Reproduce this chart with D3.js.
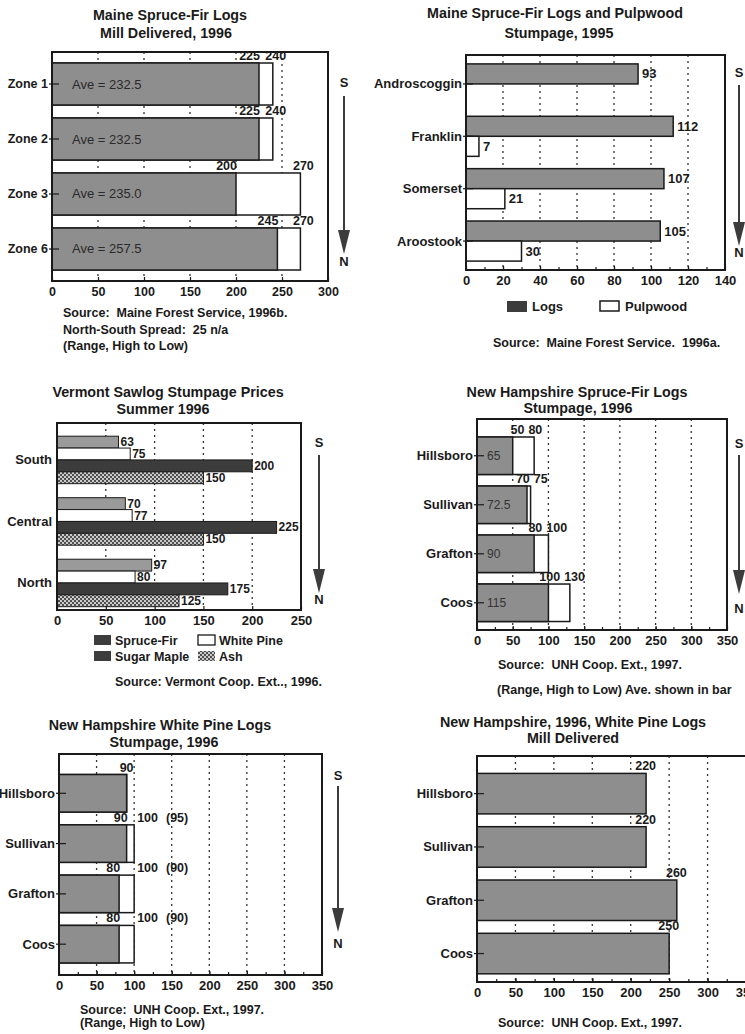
<!DOCTYPE html>
<html><head><meta charset="utf-8">
<script src="https://cdn.jsdelivr.net/npm/d3@7"></script>
<style>
body{margin:0;background:#fff;}
svg text{font-family:'Liberation Sans',Arial,Helvetica,sans-serif;white-space:pre;}
</style></head>
<body>
<script>
// ---------- DATA ----------
// Chart 1: Maine Spruce-Fir Logs, Mill Delivered, 1996
const c1Zones = ["Zone 1","Zone 2","Zone 3","Zone 6"];
const c1Low = [225,225,200,245];
const c1High = [240,240,270,270];
const c1Ave = [232.5,232.5,235.0,257.5];
const c1Ticks = [0,50,100,150,200,250,300];

// Chart 2: Maine Spruce-Fir Logs and Pulpwood Stumpage, 1995
const c2Counties = ["Androscoggin","Franklin","Somerset","Aroostook"];
const c2Logs = [93,112,107,105];
const c2Pulp = [null,7,21,30];
const c2Ticks = [0,20,40,60,80,100,120,140];

// Chart 3: Vermont Sawlog Stumpage Prices, Summer 1996
const c3Regions = ["South","Central","North"];
const c3Series = ["Spruce-Fir","White Pine","Sugar Maple","Ash"];
const c3SpruceFir = [63,70,97];
const c3WhitePine = [75,77,80];
const c3SugarMaple = [200,225,175];
const c3Ash = [150,150,125];
const c3Ticks = [0,50,100,150,200,250];

// Chart 4: New Hampshire Spruce-Fir Logs Stumpage, 1996
const c4Counties = ["Hillsboro","Sullivan","Grafton","Coos"];
const c4Low = [50,70,80,100];
const c4High = [80,75,100,130];
const c4Ave = [65,72.5,90,115];
const c4Ticks = [0,50,100,150,200,250,300,350];

// Chart 5: New Hampshire White Pine Logs Stumpage, 1996
const c5Counties = ["Hillsboro","Sullivan","Grafton","Coos"];
const c5Low = [90,90,80,80];
const c5High = [90,100,100,100];
const c5Ave = [null,95,90,90];
const c5Ticks = [0,50,100,150,200,250,300,350];

// Chart 6: New Hampshire, 1996, White Pine Logs, Mill Delivered
const c6Counties = ["Hillsboro","Sullivan","Grafton","Coos"];
const c6Values = [220,220,260,250];
const c6Ticks = [0,50,100,150,200,250,300,350];

// ---------- DRAWING ----------
const GRAY = "#8e8e8e", DARK = "#3c3c3c", INK = "#1a1a1a";
const TITLE = 14.3, SRC = 12.5, CAT = 13;
const svg = d3.select("body").append("svg").attr("width",745).attr("height",1034);
const defs = svg.append("defs");
const pat = defs.append("pattern").attr("id","ash").attr("width",4).attr("height",4).attr("patternUnits","userSpaceOnUse");
pat.append("rect").attr("width",4).attr("height",4).attr("fill","#505050");
pat.append("circle").attr("cx",1).attr("cy",1).attr("r",0.95).attr("fill","#fff");
pat.append("circle").attr("cx",3).attr("cy",3).attr("r",0.95).attr("fill","#fff");

function txt(g, x, y, s, size, opts={}) {
  return g.append("text").attr("x",x).attr("y",y).text(s)
    .attr("font-size",size).attr("font-weight",opts.weight||"bold")
    .attr("text-anchor",opts.anchor||"start").attr("fill",opts.fill||INK);
}
function grid(g, x, ticks, top, bottom) {
  g.selectAll(null).data(ticks).join("line")
    .attr("x1",d=>x(d)).attr("x2",d=>x(d)).attr("y1",top).attr("y2",bottom)
    .attr("stroke","#333").attr("stroke-width",1.3).attr("stroke-dasharray","2,4");
}
function frameAxis(g, x, top, bottom, ticks, minorStep, fs) {
  const d = x.domain();
  g.append("rect").attr("x",x(d[0])).attr("y",top).attr("width",x(d[1])-x(d[0])).attr("height",bottom-top)
    .attr("fill","none").attr("stroke",INK).attr("stroke-width",2);
  if (minorStep) {
    const minor = d3.range(d[0]+minorStep, d[1], minorStep);
    const m = g.append("g").attr("transform",`translate(0,${bottom})`)
      .call(d3.axisBottom(x).tickValues(minor).tickSize(-3).tickFormat(""));
    m.select(".domain").remove();
    m.selectAll("line").attr("stroke",INK).attr("stroke-width",1.2);
  }
  const a = g.append("g").attr("transform",`translate(0,${bottom})`)
    .call(d3.axisBottom(x).tickValues(ticks).tickSizeInner(-4).tickSizeOuter(0).tickPadding(6));
  a.select(".domain").remove();
  a.selectAll("line").attr("stroke",INK).attr("stroke-width",1.2);
  a.selectAll("text").attr("font-size",fs||13).attr("font-weight","bold").attr("fill",INK);
}
function yLabels(g, x0, y, cats, fs) {
  cats.forEach(c => {
    const cy = y(c) + y.bandwidth()/2;
    g.append("line").attr("x1",x0-3).attr("x2",x0+7).attr("y1",cy).attr("y2",cy).attr("stroke",INK).attr("stroke-width",1.2);
    txt(g, x0-4, cy, c, fs||CAT, {anchor:"end"}).attr("dominant-baseline","central");
  });
}
function arrow(g, x, sY, y0, tipY, nY) {
  txt(g, x, sY, "S", 13, {anchor:"middle"});
  g.append("line").attr("x1",x).attr("x2",x).attr("y1",y0).attr("y2",tipY-20).attr("stroke",DARK).attr("stroke-width",2);
  g.append("path").attr("d",`M${x-6},${tipY-24}L${x+6},${tipY-24}L${x},${tipY}Z`).attr("fill",DARK);
  txt(g, x, nY, "N", 13, {anchor:"middle"});
}
function rangeBars(g, x, y, cats, low, high) {
  g.selectAll(null).data(cats).join("rect")
    .attr("x",x(0)).attr("y",c=>y(c)).attr("height",y.bandwidth())
    .attr("width",(c,i)=>x(high[i])-x(0)).attr("fill","#fff").attr("stroke",INK).attr("stroke-width",1.5);
  g.selectAll(null).data(cats).join("rect")
    .attr("x",x(0)).attr("y",c=>y(c)).attr("height",y.bandwidth())
    .attr("width",(c,i)=>x(low[i])-x(0)).attr("fill",GRAY).attr("stroke",INK).attr("stroke-width",1.5);
}

// ===== Chart 1 =====
{
  const g = svg.append("g");
  const x = d3.scaleLinear().domain([0,300]).range([52,328]);
  const y = d3.scaleBand().domain(c1Zones).range([52,281]).paddingInner(0.236).paddingOuter(0.2);
  txt(g,170,20,"Maine Spruce-Fir Logs",TITLE,{anchor:"middle"});
  txt(g,166,38,"Mill Delivered, 1996",TITLE,{anchor:"middle"});
  grid(g,x,[50,100,150,200,250],52,281);
  rangeBars(g,x,y,c1Zones,c1Low,c1High);
  c1Zones.forEach((c,i)=>{
    txt(g,x(c1Low[i])+1,y(c)-3,String(c1Low[i]),12.5,{anchor:"end"});
    txt(g,x(c1High[i])+3,y(c)-3,String(c1High[i]),12.5,{anchor:"middle"});
    txt(g,x(0)+20,y(c)+y.bandwidth()/2,"Ave = "+c1Ave[i].toFixed(1),13,{weight:"normal",fill:"#2a2a2a"}).attr("dominant-baseline","central");
  });
  frameAxis(g,x,52,281,c1Ticks,null,12.5);
  yLabels(g,x(0),y,c1Zones,12.5);
  arrow(g,344,87,96,254,266);
  txt(g,63,317,"Source:  Maine Forest Service, 1996b.",SRC);
  txt(g,63,334,"North-South Spread:  25 n/a",SRC);
  txt(g,63,350,"(Range, High to Low)",SRC);
}

// ===== Chart 2 =====
{
  const g = svg.append("g");
  const x = d3.scaleLinear().domain([0,140]).range([466,725]);
  const y = d3.scaleBand().domain(c2Counties).range([55,270]).paddingInner(0.235).paddingOuter(0.17);
  const h = y.bandwidth()/2;
  txt(g,555,18,"Maine Spruce-Fir Logs and Pulpwood",TITLE,{anchor:"middle"});
  txt(g,559,38,"Stumpage, 1995",TITLE,{anchor:"middle"});
  grid(g,x,[20,40,60,80,100,120],55,270);
  g.selectAll(null).data(c2Counties).join("rect")
    .attr("x",x(0)).attr("y",c=>y(c)).attr("height",h)
    .attr("width",(c,i)=>x(c2Logs[i])-x(0)).attr("fill",GRAY).attr("stroke",INK).attr("stroke-width",1.5);
  const pd = c2Counties.map((c,i)=>({c,v:c2Pulp[i]})).filter(d=>d.v!==null);
  g.selectAll(null).data(pd).join("rect")
    .attr("x",x(0)).attr("y",d=>y(d.c)+h).attr("height",h)
    .attr("width",d=>x(d.v)-x(0)).attr("fill","#fff").attr("stroke",INK).attr("stroke-width",1.5);
  c2Counties.forEach((c,i)=>{
    txt(g,x(c2Logs[i])+4,y(c)+h/2,String(c2Logs[i]),13).attr("dominant-baseline","central");
    if (c2Pulp[i]!==null) txt(g,x(c2Pulp[i])+4,y(c)+h*1.5,String(c2Pulp[i]),13).attr("dominant-baseline","central");
  });
  frameAxis(g,x,55,270,c2Ticks,10);
  yLabels(g,x(0),y,c2Counties);
  arrow(g,739,77,85,246,257);
  // legend
  g.append("rect").attr("x",507).attr("y",301).attr("width",20).attr("height",11).attr("fill",DARK);
  txt(g,532,311,"Logs",13);
  g.append("rect").attr("x",600).attr("y",301).attr("width",19).attr("height",10).attr("fill","#fff").attr("stroke",INK).attr("stroke-width",1.5);
  txt(g,625,311,"Pulpwood",13);
  txt(g,493,347,"Source:  Maine Forest Service.  1996a.",SRC);
}

// ===== Chart 3 =====
{
  const g = svg.append("g");
  const x = d3.scaleLinear().domain([0,250]).range([57,301]);
  const y = d3.scaleBand().domain(c3Regions).range([423,610]).paddingInner(0.228).paddingOuter(0.134).align(0.8);
  const s = d3.scaleBand().domain(c3Series).range([0,y.bandwidth()]);
  const vals = [c3SpruceFir,c3WhitePine,c3SugarMaple,c3Ash];
  const fills = ["#9a9a9a","#fff",DARK,"url(#ash)"];
  txt(g,168,397,"Vermont Sawlog Stumpage Prices",TITLE,{anchor:"middle"});
  txt(g,163,414,"Summer 1996",TITLE,{anchor:"middle"});
  grid(g,x,[50,100,150,200],423,610);
  c3Series.forEach((ser,k)=>{
    g.selectAll(null).data(c3Regions).join("rect")
      .attr("x",x(0)).attr("y",r=>y(r)+s(ser)).attr("height",s.bandwidth())
      .attr("width",(r,i)=>x(vals[k][i])-x(0)).attr("fill",fills[k]).attr("stroke",INK).attr("stroke-width",1);
    c3Regions.forEach((r,i)=>{
      txt(g,x(vals[k][i])+2,y(r)+s(ser)+s.bandwidth()/2,String(vals[k][i]),12).attr("dominant-baseline","central");
    });
  });
  frameAxis(g,x,423,610,c3Ticks,null);
  c3Regions.forEach(r=>{
    txt(g,x(0)-5,y(r)+y.bandwidth()/2,r,CAT,{anchor:"end"}).attr("dominant-baseline","central");
  });
  arrow(g,319,447,455,593,604);
  // legend
  const L = [[94,635,DARK,"Spruce-Fir"],[198,635,"#fff","White Pine"],[94,651,DARK,"Sugar Maple"],[198,651,"url(#ash)","Ash"]];
  L.forEach(([lx,ly,f,t])=>{
    g.append("rect").attr("x",lx).attr("y",ly).attr("width",17).attr("height",10).attr("fill",f)
      .attr("stroke",f==="#fff"?INK:"none").attr("stroke-width",1.3);
    txt(g,lx+21,ly+10,t,12.5);
  });
  txt(g,115,686,"Source: Vermont Coop. Ext.., 1996.",SRC);
}

// ===== Chart 4 =====
{
  const g = svg.append("g");
  const x = d3.scaleLinear().domain([0,350]).range([477,727]);
  const y = d3.scaleBand().domain(c4Counties).range([419,630]).paddingInner(0.235).paddingOuter(0.27).align(0.68);
  txt(g,577,397,"New Hampshire Spruce-Fir Logs",TITLE,{anchor:"middle"});
  txt(g,578,413,"Stumpage, 1996",TITLE,{anchor:"middle"});
  grid(g,x,[50,100,150,200,250,300],419,630);
  rangeBars(g,x,y,c4Counties,c4Low,c4High);
  c4Counties.forEach((c,i)=>{
    const mid = (x(c4Low[i])+x(c4High[i]))/2 + 2;
    txt(g,mid-1,y(c)-3,String(c4Low[i]),12.5,{anchor:"end"});
    txt(g,mid+3,y(c)-3,String(c4High[i]),12.5);
    txt(g,x(0)+10,y(c)+y.bandwidth()/2,String(c4Ave[i]),12,{weight:"normal",fill:"#333"}).attr("dominant-baseline","central");
  });
  frameAxis(g,x,419,630,c4Ticks,25);
  yLabels(g,x(0),y,c4Counties);
  arrow(g,739,448,455,594,613);
  txt(g,590,669,"Source:  UNH Coop. Ext., 1997.",SRC,{anchor:"middle"});
  txt(g,497,694,"(Range, High to Low) Ave. shown in bar",SRC);
}

// ===== Chart 5 =====
{
  const g = svg.append("g");
  const x = d3.scaleLinear().domain([0,350]).range([59,322]);
  const y = d3.scaleBand().domain(c5Counties).range([754,975]).paddingInner(0.254).paddingOuter(0.324).align(0.63);
  txt(g,160,730,"New Hampshire White Pine Logs",TITLE,{anchor:"middle"});
  txt(g,164,747,"Stumpage, 1996",TITLE,{anchor:"middle"});
  grid(g,x,[50,100,150,200,250,300],754,975);
  rangeBars(g,x,y,c5Counties,c5Low,c5High);
  c5Counties.forEach((c,i)=>{
    if (c5Low[i]===c5High[i]) {
      txt(g,x(c5Low[i]),y(c)-3,String(c5Low[i]),12.5,{anchor:"middle"});
    } else {
      txt(g,x(c5Low[i])+1,y(c)-3,String(c5Low[i]),12.5,{anchor:"end"});
      const t = txt(g,x(c5High[i])+3,y(c)-3,String(c5High[i]),12.5);
      if (c5Ave[i]!==null) t.append("tspan").attr("dx",8).text("("+c5Ave[i]+")");
    }
  });
  frameAxis(g,x,754,975,c5Ticks,25);
  yLabels(g,x(0),y,c5Counties);
  arrow(g,338,780,786,932,948);
  txt(g,80,1014,"Source:  UNH Coop. Ext., 1997.",SRC);
  txt(g,80,1027,"(Range, High to Low)",SRC);
}

// ===== Chart 6 =====
{
  const g = svg.append("g");
  const x = d3.scaleLinear().domain([0,350]).range([477,746]);
  const y = d3.scaleBand().domain(c6Counties).range([756,982]).paddingInner(0.24).paddingOuter(0.24).align(0.68);
  txt(g,573,727,"New Hampshire, 1996, White Pine Logs",TITLE,{anchor:"middle"});
  txt(g,573,743,"Mill Delivered",TITLE,{anchor:"middle"});
  grid(g,x,[50,100,150,200,250,300],756,982);
  g.selectAll(null).data(c6Counties).join("rect")
    .attr("x",x(0)).attr("y",c=>y(c)).attr("height",y.bandwidth())
    .attr("width",(c,i)=>x(c6Values[i])-x(0)).attr("fill",GRAY).attr("stroke",INK).attr("stroke-width",1.5);
  c6Counties.forEach((c,i)=>{
    txt(g,x(c6Values[i])+10,y(c)-3,String(c6Values[i]),12.5,{anchor:"end"});
  });
  frameAxis(g,x,756,982,c6Ticks,25);
  yLabels(g,x(0),y,c6Counties);
  txt(g,590,1027,"Source:  UNH Coop. Ext., 1997.",SRC,{anchor:"middle"});
}
</script>
</body></html>
